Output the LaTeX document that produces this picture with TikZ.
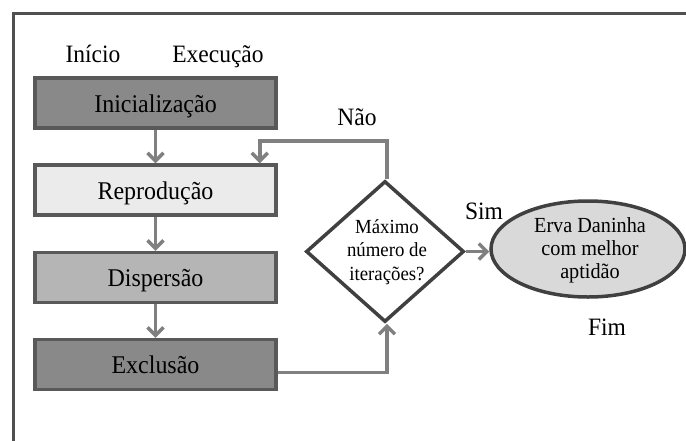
\documentclass[tikz,border=0pt]{standalone}
\usepackage{fontspec}
\setmainfont{Liberation Serif}[FakeStretch=0.94]
\usetikzlibrary{shapes.geometric,arrows.meta}
\definecolor{boxline}{HTML}{595959}
\definecolor{darkfill}{HTML}{898989}
\definecolor{lightfill}{HTML}{EBEBEB}
\definecolor{midfill}{HTML}{B5B5B5}
\definecolor{arrgray}{HTML}{808080}
\definecolor{shapeline}{HTML}{404040}
\definecolor{ellfill}{HTML}{D9D9D9}
\definecolor{framecol}{HTML}{505050}
\tikzset{
  procbox/.style={draw=boxline, line width=3.5pt, rectangle, minimum width=241pt, minimum height=50pt, inner sep=0pt, text height=20pt, text depth=2pt, font=\fontsize{25.5}{29}\selectfont},
  arr/.style={draw=arrgray, line width=3.5pt, -{Straight Barb[length=8pt,width=16pt]}},
  lbl/.style={font=\fontsize{25}{29}\selectfont, inner sep=0pt, anchor=base},
}
\begin{document}
\begin{tikzpicture}[x=1pt,y=-1pt]
\useasboundingbox (0,0) rectangle (686,440);
\clip (0,0) rectangle (686,440);
\draw[framecol, line width=3pt] (13,460) -- (13,13) -- (700,13);

\node[lbl] (inicio) at (93,62) {Início};
\node[lbl] (exec) at (218,62) {Execução};

\node[procbox, fill=darkfill] (init) at (155.5,103) {Inicialização};
\node[procbox, fill=lightfill] (repr) at (155.5,190) {Reprodução};
\node[procbox, fill=midfill] (disp) at (155.5,277.5) {Dispersão};
\node[procbox, fill=darkfill] (excl) at (155.5,364.5) {Exclusão};

\node[diamond, draw=shapeline, fill=white, line width=3.5pt, minimum width=158pt, minimum height=141pt, inner sep=0pt] (dia) at (385,251.5) {};
\node[align=center, inner sep=0pt, font=\fontsize{20}{23.5}\selectfont] (diatext) at (387,252) {Máximo\\número de\\iterações?};

\node[ellipse, draw=shapeline, fill=ellfill, line width=3.5pt, minimum width=194pt, minimum height=96pt, inner sep=0pt] (ell) at (588,249) {};
\node[align=center, inner sep=0pt, font=\fontsize{21.5}{23}\selectfont] (elltext) at (590,250) {Erva Daninha\\com melhor\\aptidão};

\node[lbl] (nao) at (357,125) {Não};
\node[lbl] (sim) at (484,219) {Sim};
\node[lbl] (fim) at (607,335) {Fim};

\draw[arr] (init) -- (repr);
\draw[arr] (repr) -- (disp);
\draw[arr] (disp) -- (excl);
\coordinate (loopin) at ([xshift=-18pt]repr.north east);
\draw[arr] (dia.north -| 387,0) -- (387,141) -| (loopin);
\draw[arr] ([yshift=-8pt]excl.east) -| (dia.south -| 387,0);
\draw[arr] (dia.east) -- (dia.east -| ell.west);
\end{tikzpicture}
\end{document}
